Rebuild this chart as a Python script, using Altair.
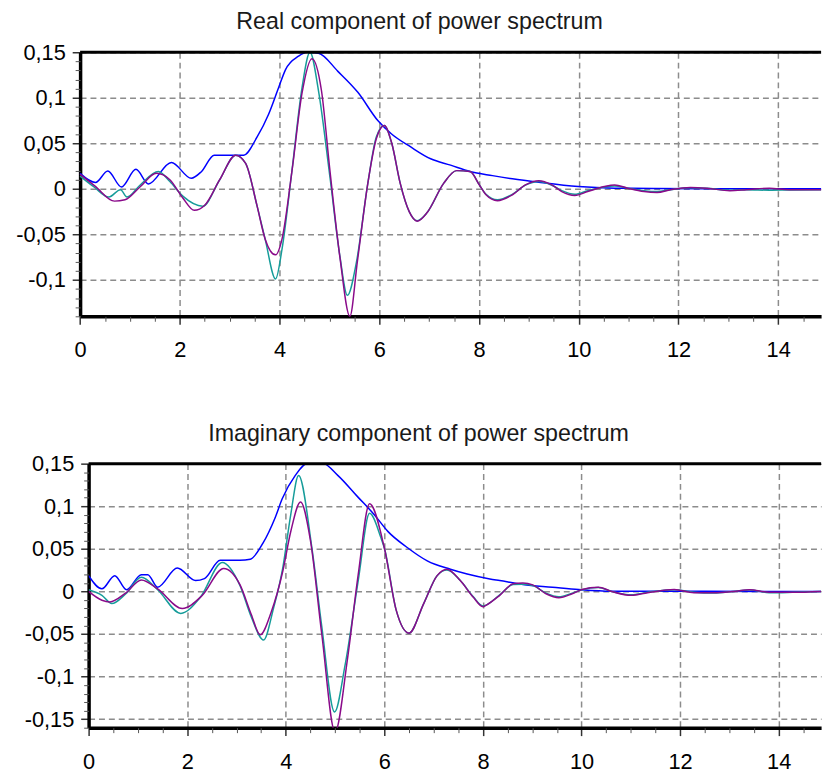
import altair as alt
import pandas as pd

# ---------------- Real component ----------------
re_title = "Real component of power spectrum"
re_blue_x = [0, 0.31, 0.555, 0.83, 1.12, 1.37, 1.83, 2.23, 2.43, 2.69, 3.05, 3.28, 3.55, 3.78, 3.98, 4.12, 4.38,
             4.55, 4.78, 5.17, 5.57, 5.97, 6.24, 6.63, 7.03, 7.43, 7.82, 8.27, 8.67, 9.2, 9.99, 10.72, 11.5,
             12.5, 13.5, 14.86]
re_blue_y = [0.017, 0.007, 0.0196, 0.002, 0.0214, 0.0054, 0.029, 0.0116, 0.0188, 0.037, 0.037, 0.037, 0.057,
             0.082, 0.111, 0.131, 0.1457, 0.15, 0.149, 0.129, 0.106, 0.075, 0.0605, 0.046, 0.033, 0.026,
             0.019, 0.0145, 0.011, 0.0072, 0.0025, 0.0007, 0.0004, 0.0002, 0.0001, 0.0]

re_teal_x = [0, 0.28, 0.575, 0.81, 0.94, 1.2, 1.57, 1.8, 2.06, 2.46, 2.8, 3.12, 3.32, 3.55, 3.71, 3.92, 4.05,
             4.25, 4.45, 4.61, 4.78, 5.01, 5.21, 5.36, 5.54, 5.77, 5.94, 6.1, 6.25, 6.42, 6.6, 6.76, 6.96,
             7.29, 7.55, 7.82, 8.01, 8.14, 8.37, 8.67, 8.93, 9.2, 9.46, 9.66, 9.92, 10.18, 10.51, 10.72,
             10.98, 11.31, 11.57, 11.84, 12.24, 12.57, 13.03, 13.36, 13.82, 14.22, 14.86]
re_teal_y = [0.014, 0.002, -0.009, -0.001, -0.009, 0.004, 0.019, 0.008, -0.008, -0.019, 0.01, 0.037, 0.028,
             -0.019, -0.055, -0.099, -0.066, 0.0207, 0.111, 0.150, 0.108, 0.013, -0.074, -0.117, -0.081,
             0.006, 0.057, 0.0696, 0.05, 0.006, -0.025, -0.035, -0.026, 0.006, 0.02, 0.019, 0.004, -0.006,
             -0.012, -0.006, 0.004, 0.008, 0.004, -0.002, -0.006, -0.002, 0.002, 0.003, 0.0007, -0.002,
             -0.003, -0.001, 0.0012, 0.0006, -0.0015, -0.001, -0.0015, -0.0012, -0.001]

re_purple_x = [0, 0.3, 0.69, 0.9, 1.2, 1.53, 1.8, 2.06, 2.29, 2.5, 2.8, 3.12, 3.32, 3.55, 3.71, 3.92, 4.05,
               4.25, 4.45, 4.65, 4.84, 5.01, 5.21, 5.41, 5.56, 5.77, 5.94, 6.1, 6.25, 6.42, 6.6, 6.76, 6.96,
               7.29, 7.55, 7.82, 8.01, 8.14, 8.37, 8.67, 8.93, 9.2, 9.46, 9.66, 9.92, 10.18, 10.51, 10.72,
               10.98, 11.31, 11.57, 11.84, 12.24, 12.57, 13.03, 13.36, 13.82, 14.22, 14.86]
re_purple_y = [0.016, 0.003, -0.0135, -0.012, 0.002, 0.017, 0.01, -0.01, -0.0236, -0.018, 0.01, 0.037, 0.028,
               -0.019, -0.055, -0.0725, -0.055, 0.02, 0.105, 0.143, 0.108, 0.02, -0.075, -0.14, -0.08,
               0.006, 0.055, 0.0696, 0.05, 0.006, -0.025, -0.0355, -0.026, 0.006, 0.02, 0.019, 0.004,
               -0.0065, -0.013, -0.0065, 0.0043, 0.009, 0.0043, -0.003, -0.0072, -0.003, 0.0025, 0.0043,
               0.0007, -0.003, -0.004, -0.001, 0.0015, 0.0007, -0.002, -0.001, 0.0007, -0.001, -0.001]

# ---------------- Imaginary component ----------------
im_title = "Imaginary component of power spectrum"
im_blue_x = [0, 0.27, 0.53, 0.77, 1.07, 1.2, 1.4, 1.8, 2.17, 2.35, 2.67, 3.07, 3.28, 3.54, 3.78, 3.93, 4.19,
             4.46, 4.73, 5.06, 5.46, 5.8, 6.07, 6.47, 6.87, 7.34, 7.68, 8.14, 8.34, 8.81, 9.41, 9.94, 10.61,
             11.5, 12.5, 14.86]
im_blue_y = [0.0185, 0.003, 0.0185, 0.002, 0.0197, 0.0197, 0.005, 0.0274, 0.0127, 0.015, 0.0366, 0.0366,
             0.0378, 0.057, 0.086, 0.109, 0.136, 0.151, 0.151, 0.136, 0.111, 0.0898, 0.0705, 0.0513, 0.0359,
             0.026, 0.0204, 0.0146, 0.0127, 0.0081, 0.005, 0.0023, 0.0003, 0.0002, 0.0001, 0.0]

im_teal_x = [0, 0.27, 0.47, 0.75, 1.07, 1.4, 1.87, 2.27, 2.71, 3.07, 3.3, 3.55, 3.75, 3.94, 4.1, 4.26, 4.53,
             4.73, 4.99, 5.2, 5.47, 5.7, 5.93, 6.0, 6.24, 6.5, 6.8, 7.07, 7.27, 7.54, 7.8, 8.0, 8.34, 8.61,
             8.81, 9.01, 9.28, 9.54, 9.81, 10.01, 10.34, 10.61, 11.01, 11.34, 11.88, 12.28, 12.68, 13.08,
             13.41, 13.81, 14.28, 14.86]
im_teal_y = [0.002, -0.0046, -0.0143, -0.003, 0.0166, 0.002, -0.0258, -0.0066, 0.034, 0.007, -0.03, -0.057,
             -0.02, 0.028, 0.09, 0.136, 0.051, -0.041, -0.1415, -0.0875, 0.0127, 0.0917, 0.063, 0.051,
             -0.022, -0.049, -0.014, 0.0185, 0.025, 0.0127, -0.006, -0.017, -0.004, 0.008, 0.0085, 0.007,
             -0.002, -0.0062, -0.002, 0.002, 0.0045, 0.0, -0.004, -0.001, 0.002, -0.001, -0.002, 0.0,
             0.0018, -0.0015, -0.001, 0.0]

im_purple_x = [0, 0.27, 0.43, 0.75, 1.07, 1.4, 1.9, 2.3, 2.74, 3.07, 3.3, 3.48, 3.7, 3.94, 4.1, 4.3, 4.5,
               4.73, 5.0, 5.25, 5.47, 5.7, 6.0, 6.24, 6.5, 6.8, 7.07, 7.27, 7.54, 7.8, 8.0, 8.07, 8.34, 8.61,
               8.81, 9.01, 9.28, 9.54, 9.81, 10.01, 10.34, 10.61, 11.01, 11.34, 11.88, 12.28, 12.68, 13.08,
               13.41, 13.81, 14.28, 14.86]
im_purple_y = [0.0, -0.0104, -0.0123, -0.002, 0.0135, 0.003, -0.02, -0.005, 0.027, 0.008, -0.027, -0.051,
               -0.025, 0.024, 0.07, 0.105, 0.06, -0.05, -0.165, -0.08, 0.02, 0.103, 0.051, -0.022, -0.049,
               -0.014, 0.0185, 0.026, 0.0127, -0.0066, -0.018, -0.016, -0.0046, 0.0089, 0.01, 0.0077,
               -0.0027, -0.0073, -0.0027, 0.0023, 0.005, 0.0, -0.0046, -0.0015, 0.0023, -0.0015, -0.0015,
               0.0, 0.002, -0.001, -0.001, 0.0]

x_ticks = [0, 2, 4, 6, 8, 10, 12, 14]
x_minor = [0.5, 1, 1.5, 2.5, 3, 3.5, 4.5, 5, 5.5, 6.5, 7, 7.5, 8.5, 9, 9.5, 10.5, 11, 11.5, 12.5, 13, 13.5,
           14.5]
re_y_ticks = [0.15, 0.1, 0.05, 0, -0.05, -0.1]
im_y_ticks = [0.15, 0.1, 0.05, 0, -0.05, -0.1, -0.15]
X_MAX = 14.86

FONT = "Liberation Sans"
SERIES = ["a_blue", "b_teal", "c_purple"]
COLORS = ["#0000ff", "#169c9a", "#8a0a8a"]


def long_df(bx, by, tx, ty, px, py):
    rows = []
    for name, xs, ys in zip(SERIES, [bx, tx, px], [by, ty, py]):
        for i, (a, b) in enumerate(zip(xs, ys)):
            rows.append({"x": a, "y": b, "s": name, "i": i})
    return pd.DataFrame(rows)


def minor_vals(lo, hi):
    out = []
    k = int(round(lo * 100))
    while k <= int(round(hi * 100)):
        if k % 5 != 0:
            out.append(k / 100)
        k += 1
    return out


def panel(df, title, ydom, yticks, W, H, title_cx, shift=0.0):
    # shift: how many pixels the plot area starts to the left of the panel origin
    if shift:
        xs = alt.Scale(domain=[0, X_MAX], nice=False, zero=False, range=[-shift, W])
    else:
        xs = alt.Scale(domain=[0, X_MAX], nice=False, zero=False)
    ys = alt.Scale(domain=ydom, nice=False, zero=False)
    xaxis = alt.Axis(values=x_ticks, grid=True, gridDash=[6, 4], gridColor="#8c8c8c", gridWidth=1.5,
                     domain=True, domainColor="black", domainWidth=3.5, tickSize=8, tickColor="#333333",
                     tickWidth=1.5, labelPadding=16, labelFontSize=22, labelFont=FONT, labelColor="black",
                     labelFlush=False, labelOverlap=False, title=None, orient="bottom")
    yaxis = alt.Axis(values=yticks, grid=True, gridDash=[6, 4], gridColor="#8c8c8c", gridWidth=1.5,
                     domain=True, domainColor="black", domainWidth=3.5, tickSize=8, tickColor="#333333",
                     tickWidth=1.5, labelPadding=7, labelFontSize=22, labelFont=FONT, labelColor="black",
                     labelFlush=False, labelOverlap=False, title=None, orient="left", offset=shift,
                     labelExpr="replace(toString(datum.value), '.', ',')")
    lines = alt.Chart(df).mark_line(clip=(shift == 0), strokeWidth=1.5, interpolate="monotone").encode(
        x=alt.X("x:Q", scale=xs, axis=xaxis),
        y=alt.Y("y:Q", scale=ys, axis=yaxis),
        color=alt.Color("s:N", scale=alt.Scale(domain=SERIES, range=COLORS), legend=None),
        order="i:Q",
    )
    minor = alt.Chart(df).mark_point(opacity=0, clip=True).encode(
        x=alt.X("x:Q", scale=xs, axis=alt.Axis(values=x_minor, grid=False, domain=False, labels=False,
                                               tickSize=5, tickColor="#555555", tickWidth=1, title=None,
                                               orient="bottom")),
        y=alt.Y("y:Q", scale=ys, axis=alt.Axis(values=minor_vals(ydom[0], ydom[1]), grid=False, domain=False,
                                               labels=False, tickSize=5, tickColor="#555555", tickWidth=1,
                                               title=None, orient="left", offset=shift)),
    )
    border = alt.Chart(pd.DataFrame({"b": [0]})).mark_rule(color="black", strokeWidth=3).encode(
        x=alt.value(-shift), x2=alt.value(W), y=alt.value(0))
    ttl = alt.Chart(pd.DataFrame({"t": [title]})).mark_text(
        font=FONT, fontSize=23.5, baseline="alphabetic", align="center", color="#1a1a1a").encode(
        text="t:N", x=alt.value(title_cx), y=alt.value(-23.4))
    layers = [lines, minor, border, ttl]
    return alt.layer(*layers).resolve_axis(x="independent", y="independent").properties(width=W, height=H)


df_re = long_df(re_blue_x, re_blue_y, re_teal_x, re_teal_y, re_purple_x, re_purple_y)
df_im = long_df(im_blue_x, im_blue_y, im_teal_x, im_teal_y, im_purple_x, im_purple_y)

ORIGIN = 89.3
W = 830 - ORIGIN
top = panel(df_re, re_title, [-0.14, 0.15], re_y_ticks, W, 267, 424 - ORIGIN, shift=8.6)
bottom = panel(df_im, im_title, [-0.16, 0.15], im_y_ticks, W, 267, 423 - ORIGIN)

chart = alt.concat(top, bottom, columns=1, spacing=61).properties(
    padding={"left": 15.6, "top": 5.5, "right": 0, "bottom": 0},
    background="white",
).configure_view(stroke="transparent", strokeWidth=0)

chart.save("out.html", embed_options={"renderer": "svg", "actions": False})
